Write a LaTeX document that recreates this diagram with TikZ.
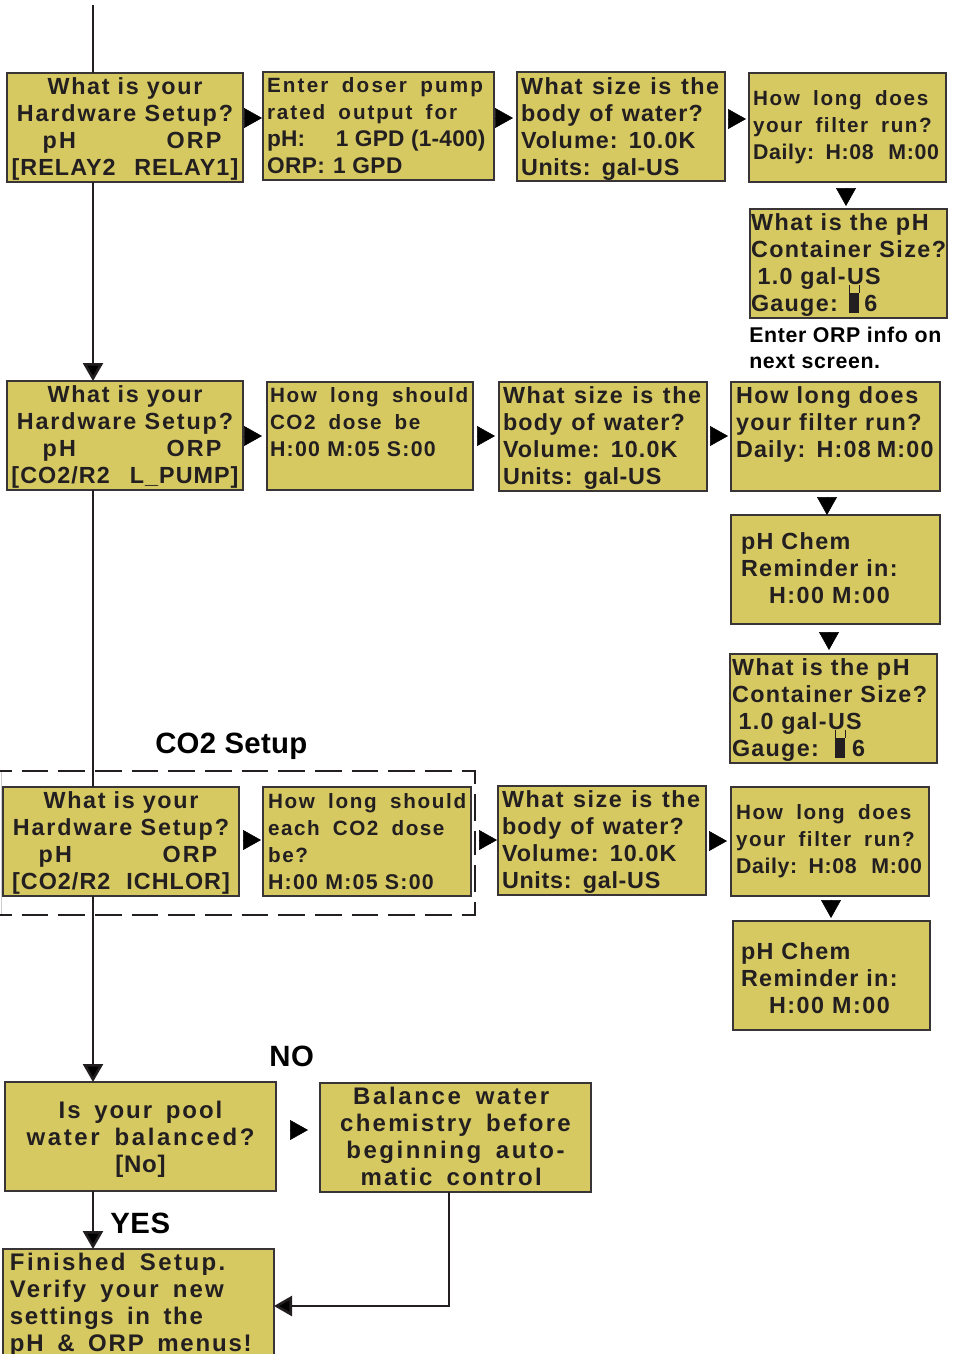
\documentclass[tikz,border=0pt]{standalone}
\usepackage{fontspec}
\setmainfont{Liberation Sans}
\usetikzlibrary{arrows.meta}
\definecolor{lcd}{RGB}{214,201,98}
\definecolor{ink}{RGB}{35,31,32}
% centred line: size, letter space, word space, text
\newcommand{\Lc}[4]{{\fontsize{#1}{20.25}\selectfont\addfontfeature{LetterSpace=#2}\spaceskip=#3\fontdimen2\font\relax #4}}
% left line that never wraps
\newcommand{\Ll}[4]{\makebox[0pt][l]{\Lc{#1}{#2}{#3}{#4}}}
\newcommand{\tH}{15}\newcommand{\tD}{4}
\newcommand{\boxn}[7][]{%
  \pgfmathsetmacro{\bw}{(#4-#2)*0.75}\pgfmathsetmacro{\bh}{(#5-#3)*0.75}%
  \node[lcdbox,minimum width=\bw pt,minimum height=\bh pt,#1] (#6) at ({(#2+#4)/2},{(#3+#5)/2}) {\rule{0pt}{\tH pt}#7\rule[-\tD pt]{0pt}{\tD pt}};}
% gap triangles: start and end offsets in picture pixels
\newcommand{\conH}[5]{\draw[tri] ([xshift=#4*0.75pt]#1.east |- 0,#3) -- ([xshift=#5*0.75pt]#2.west |- 0,#3);}
\newcommand{\conV}[5]{\draw[tri] ([yshift=#4*-0.75pt]#3,0 |- #1.south) -- ([yshift=#5*-0.75pt]#3,0 |- #2.north);}
% repeated screens
\newcommand{\sizeText}{\Ll{17.5}{6.5}{1.2}{What size is the}\\\Ll{17.5}{5}{1.2}{body of water?}\\\Ll{17.5}{4.5}{0.8}{Volume: 10.0K}\\\Ll{17.5}{3}{0.8}{Units: gal-US}}
\newcommand{\hwText}[1]{\Lc{17.5}{7}{1}{What is your}\\\Lc{17.5}{8}{1}{Hardware Setup?}\\\hspace*{10.5pt}\Lc{17.5}{9}{1}{pH\hspace{68pt}ORP}\\#1}
\newcommand{\filterSmall}{\Ll{15.5}{8}{1.8}{How long does}\\\Ll{15.5}{7.5}{1.8}{your filter run?}\\\Ll{16}{3}{1}{Daily: H:08\hspace{11pt}M:00}}
\newcommand{\contText}[1]{\Ll{17.5}{6.7}{1}{What is the pH}\\\Ll{17.5}{6.2}{1}{Container Size?}\\\Ll{17.5}{5.5}{1}{\hspace*{5pt}1.0 gal-US}\\\Ll{17.5}{5.5}{1}{Gauge:\hspace{#1}6}}
\newcommand{\remText}{\Ll{17.5}{6}{1}{pH Chem}\\\Ll{17.5}{6}{1}{Reminder in:}\\\Ll{17.5}{6.5}{1}{\hspace*{21pt}H:00 M:00}}
\tikzset{
  x=0.75pt,y=-0.75pt,
  lcdbox/.style={draw=ink!90,line width=1.4pt,fill=lcd,text=ink,inner sep=0pt,outer sep=0pt,align=center,
    font=\fontsize{17}{20.25}\selectfont\bfseries},
  lft/.style={align=left,text width=\bw pt-1.5pt*#1},
  textdown/.code={\pgfmathsetmacro{\tH}{15+#1*1.5}},
  textup/.code={\pgfmathsetmacro{\tD}{4+#1*1.5}},
  wire/.style={draw=ink,line width=1.9pt},
  hardtip/.style={wire,-{Triangle[length=13.5pt,width=15pt,fill=black]}},
  tri/.style={draw=black,line width=0.4pt,-{Triangle[length=13.5pt,width=15pt,fill=black]},shorten <=1.4pt},
  label/.style={inner sep=0pt,anchor=base west,text=black,font=\fontsize{16}{20}\selectfont\bfseries},
  big/.style={label,font=\fontsize{22}{24}\selectfont\bfseries},
  gaugewall/.style={draw=ink,line width=0.7pt},
  frame/.style={draw=ink,line width=1.7pt,dash pattern=on 20pt off 7.5pt},
}
\begin{document}
\begin{tikzpicture}
\useasboundingbox (0,0) rectangle (955,1354);
\clip (0,0) rectangle (955,1354);
% dashed frame
\draw[gray!40,line width=0.6pt] (1,771) -- (1,915);
\draw[frame] (-15,771) -- (475,771) -- (475,843);
\draw[frame] (-15,915) -- (475,915) -- (475,843);
\coordinate (top) at (93,5);
\coordinate (low) at (93,936);
% boxes
\boxn{7}{73}{243}{182}{A1}{\hwText{\Lc{17.5}{4.5}{1}{[RELAY2\hspace{14pt}RELAY1]}}}
\boxn[lft=4]{263}{72}{494}{180}{A2}{\Ll{15.5}{10.5}{1.7}{Enter doser pump}\\\Ll{15.5}{9.5}{1.7}{rated output for}\\\Ll{17}{1}{1}{pH:\hspace{23pt}1 GPD (1-400)}\\\Ll{17}{2}{1}{ORP:\hspace{6pt}1 GPD}}
\boxn[lft=4,textdown=1]{517}{72}{725}{181}{A3}{\sizeText}
\boxn[lft=4,textup=2]{749}{73}{946}{182}{A4}{\filterSmall}
\boxn[lft=1]{750}{209}{947}{318}{A5}{\contText{20pt}}
\boxn{7}{381}{243}{490}{B1}{\hwText{\Lc{17.5}{4.5}{1}{[CO2/R2\hspace{15pt}L\_PUMP]}}}
\boxn[lft=3]{267}{382}{473}{490}{B2}{\Ll{15.5}{8}{1.8}{How long should}\\\Ll{15.5}{7.5}{1.8}{CO2 dose be}\\\Ll{16}{6}{1}{H:00 M:05 S:00}\\\mbox{}}
\boxn[lft=4]{499}{382}{707}{491}{B3}{\sizeText}
\boxn[lft=5]{731}{382}{940}{491}{B4}{\Ll{17.5}{7}{1}{How long does}\\\Ll{17.5}{6.5}{1}{your filter run?}\\\Ll{17.5}{5}{0.8}{Daily: H:08 M:00}\\\mbox{}}
\boxn[lft=10]{731}{515}{940}{624}{B5}{\remText}
\boxn[lft=2]{730}{654}{937}{763}{B6}{\contText{25pt}}
\boxn{3}{787}{239}{896}{C1}{\hwText{\Lc{17.5}{4.5}{1}{[CO2/R2\hspace{12pt}ICHLOR]}}}
\boxn[lft=5]{263}{787}{471}{896}{C2}{\Ll{15.5}{8}{1.8}{How long should}\\\Ll{15.5}{7.5}{1.8}{each CO2 dose}\\\Ll{15.5}{8}{1.8}{be?}\\\Ll{16}{6}{1}{H:00 M:05 S:00}}
\boxn[lft=4]{498}{786}{706}{895}{C3}{\sizeText}
\boxn[lft=5,textup=2]{731}{787}{929}{896}{C4}{\filterSmall}
\boxn[lft=8,textdown=4]{733}{921}{930}{1030}{C5}{\remText}
\boxn[textdown=1.5]{5}{1082}{276}{1191}{D1}{\Lc{18}{8}{1.6}{Is your pool}\\\Lc{18}{11}{1.6}{water balanced?}\\\Lc{18}{3}{1}{[No]}}
\boxn{320}{1083}{591}{1192}{D2}{\Lc{18}{11}{1.6}{Balance water}\hspace*{6.5pt}\\\Lc{18}{9.5}{1.6}{chemistry before}\hspace*{11pt}\\\Lc{18}{10.5}{1.6}{beginning auto-}\hspace*{11pt}\\\Lc{18}{9.5}{1.6}{matic control}\hspace*{6.5pt}}
\boxn[lft=7]{3}{1249}{274}{1358}{E1}{\Ll{18}{10}{1.6}{Finished Setup.}\\\Ll{18}{9}{1.6}{Verify your new}\\\Ll{18}{7}{1.6}{settings in the}\\\Ll{18}{7.5}{1.6}{pH \& ORP menus!}}
% gauge icons
\foreach \gx/\gy in {849/285,835/730}{
  \fill[ink] (\gx,\gy+8) rectangle (\gx+10,\gy+28);
  \draw[gaugewall] (\gx,\gy) -- (\gx,\gy+8) (\gx+10,\gy) -- (\gx+10,\gy+8);
}
% main wires
\draw[wire] (top) -- (top |- A1.north);
\draw[hardtip] (top |- A1.south) -- (top |- B1.north);
\draw[wire] (top |- B1.south) -- (top |- C1.north);
\draw[hardtip] (low |- C1.south) -- (low |- D1.north);
\draw[hardtip] (low |- D1.south) -- (low |- E1.north);
\coordinate (ret) at (449,1306);
\draw[hardtip] (ret |- D2.south) -- (ret) -- (ret -| E1.east);
% screen-to-screen triangles
\conH{A1}{A2}{118}{-1}{-1}
\conH{A2}{A3}{118}{-1}{-4}
\conH{A3}{A4}{119}{1}{-3}
\conV{A4}{A5}{846}{4}{-3}
\conH{B1}{B2}{436}{-1}{-5}
\conH{B2}{B3}{436}{2}{-4}
\conH{B3}{B4}{436}{1}{-3}
\conV{B4}{B5}{827}{4}{0}
\conV{B5}{B6}{829}{6}{-4}
\conH{C1}{C2}{840}{2}{-2}
\conH{C2}{C3}{840}{6}{-1}
\conH{C3}{C4}{841}{1}{-4}
\conV{C4}{C5}{831}{2}{-3}
\conH{D1}{D2}{1130}{12}{-12}
% free labels
\node[label] (orp1) at (749,342) {\addfontfeature{LetterSpace=3}Enter ORP info on};
\node[label] (orp2) at (749,368) {\addfontfeature{LetterSpace=3}next screen.};
\node[big] (co2) at (155,753) {\addfontfeature{LetterSpace=1}CO2 Setup};
\node[big] (no) at (269,1066) {\addfontfeature{LetterSpace=2}NO};
\node[big] (yes) at (110,1233) {\addfontfeature{LetterSpace=2}YES};
\end{tikzpicture}
\end{document}
